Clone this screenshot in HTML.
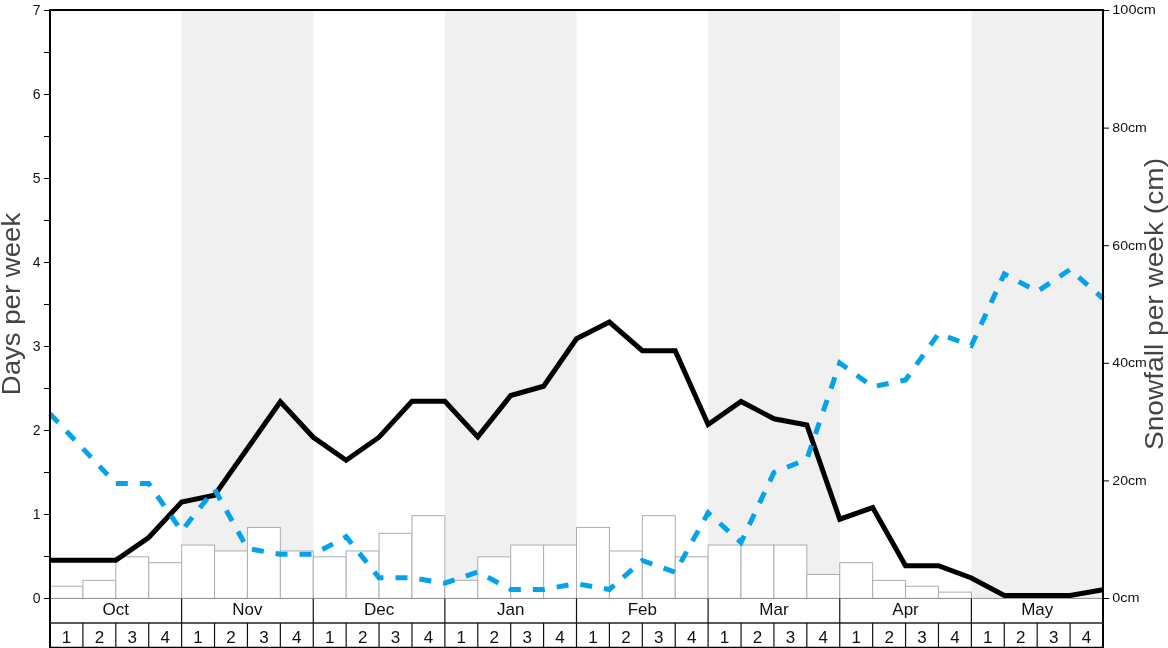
<!DOCTYPE html><html><head><meta charset="utf-8"><style>html,body{margin:0;padding:0;background:#fff;}svg{display:block;will-change:transform;}</style></head><body>
<svg width="1168" height="648" viewBox="0 0 1168 648" font-family='"Liberation Sans", sans-serif'>
<rect width="1168" height="648" fill="#fff"/>
<rect x="181.625" y="10" width="131.625" height="588.500" fill="#f0f0f0"/>
<rect x="444.875" y="10" width="131.625" height="588.500" fill="#f0f0f0"/>
<rect x="708.125" y="10" width="131.625" height="588.500" fill="#f0f0f0"/>
<rect x="971.375" y="10" width="131.625" height="588.500" fill="#f0f0f0"/>
<rect x="50.000" y="586.240" width="32.906" height="12.260" fill="#fff" stroke="#abadb1" stroke-width="1"/>
<rect x="82.906" y="580.360" width="32.906" height="18.140" fill="#fff" stroke="#abadb1" stroke-width="1"/>
<rect x="115.812" y="556.840" width="32.906" height="41.660" fill="#fff" stroke="#abadb1" stroke-width="1"/>
<rect x="148.719" y="562.720" width="32.906" height="35.780" fill="#fff" stroke="#abadb1" stroke-width="1"/>
<rect x="181.625" y="545.080" width="32.906" height="53.420" fill="#fff" stroke="#abadb1" stroke-width="1"/>
<rect x="214.531" y="550.960" width="32.906" height="47.540" fill="#fff" stroke="#abadb1" stroke-width="1"/>
<rect x="247.438" y="527.440" width="32.906" height="71.060" fill="#fff" stroke="#abadb1" stroke-width="1"/>
<rect x="280.344" y="550.960" width="32.906" height="47.540" fill="#fff" stroke="#abadb1" stroke-width="1"/>
<rect x="313.250" y="556.840" width="32.906" height="41.660" fill="#fff" stroke="#abadb1" stroke-width="1"/>
<rect x="346.156" y="550.960" width="32.906" height="47.540" fill="#fff" stroke="#abadb1" stroke-width="1"/>
<rect x="379.062" y="533.320" width="32.906" height="65.180" fill="#fff" stroke="#abadb1" stroke-width="1"/>
<rect x="411.969" y="515.680" width="32.906" height="82.820" fill="#fff" stroke="#abadb1" stroke-width="1"/>
<rect x="444.875" y="580.360" width="32.906" height="18.140" fill="#fff" stroke="#abadb1" stroke-width="1"/>
<rect x="477.781" y="556.840" width="32.906" height="41.660" fill="#fff" stroke="#abadb1" stroke-width="1"/>
<rect x="510.688" y="545.080" width="32.906" height="53.420" fill="#fff" stroke="#abadb1" stroke-width="1"/>
<rect x="543.594" y="545.080" width="32.906" height="53.420" fill="#fff" stroke="#abadb1" stroke-width="1"/>
<rect x="576.500" y="527.440" width="32.906" height="71.060" fill="#fff" stroke="#abadb1" stroke-width="1"/>
<rect x="609.406" y="550.960" width="32.906" height="47.540" fill="#fff" stroke="#abadb1" stroke-width="1"/>
<rect x="642.312" y="515.680" width="32.906" height="82.820" fill="#fff" stroke="#abadb1" stroke-width="1"/>
<rect x="675.219" y="556.840" width="32.906" height="41.660" fill="#fff" stroke="#abadb1" stroke-width="1"/>
<rect x="708.125" y="545.080" width="32.906" height="53.420" fill="#fff" stroke="#abadb1" stroke-width="1"/>
<rect x="741.031" y="545.080" width="32.906" height="53.420" fill="#fff" stroke="#abadb1" stroke-width="1"/>
<rect x="773.938" y="545.080" width="32.906" height="53.420" fill="#fff" stroke="#abadb1" stroke-width="1"/>
<rect x="806.844" y="574.480" width="32.906" height="24.020" fill="#fff" stroke="#abadb1" stroke-width="1"/>
<rect x="839.750" y="562.720" width="32.906" height="35.780" fill="#fff" stroke="#abadb1" stroke-width="1"/>
<rect x="872.656" y="580.360" width="32.906" height="18.140" fill="#fff" stroke="#abadb1" stroke-width="1"/>
<rect x="905.562" y="586.240" width="32.906" height="12.260" fill="#fff" stroke="#abadb1" stroke-width="1"/>
<rect x="938.469" y="592.120" width="32.906" height="6.380" fill="#fff" stroke="#abadb1" stroke-width="1"/>
<line x1="50" y1="598.4" x2="1103" y2="598.4" stroke="#909296" stroke-width="1"/>
<polyline points="50.00,560.20 82.91,560.20 115.81,560.20 148.72,537.50 181.62,502.00 214.53,495.20 247.44,448.50 280.34,401.70 313.25,437.30 346.16,460.25 379.06,437.20 411.97,401.25 444.88,401.25 477.78,436.90 510.69,395.50 543.59,386.25 576.50,338.75 609.41,322.00 642.31,350.75 675.22,350.75 708.12,424.50 741.03,401.50 773.94,418.75 806.84,425.00 839.75,519.20 872.66,507.60 905.56,565.75 938.47,565.75 971.38,578.00 1004.28,595.50 1037.19,595.50 1070.09,595.50 1103.00,589.70" fill="none" stroke="#000" stroke-width="5" stroke-linejoin="miter"/>
<polyline points="50.00,413.75 82.91,448.60 115.81,483.60 148.72,483.60 181.62,531.00 214.53,489.30 247.44,548.50 280.34,554.30 313.25,554.30 346.16,536.80 379.06,577.80 411.97,577.80 444.88,583.20 477.78,572.00 510.69,589.40 543.59,589.40 576.50,583.70 609.41,589.50 642.31,560.50 675.22,572.30 708.12,512.80 741.03,542.40 773.94,472.50 806.84,459.20 839.75,363.00 872.66,386.80 905.56,379.90 938.47,333.80 971.38,345.60 1004.28,274.00 1037.19,291.50 1070.09,269.50 1103.00,298.50" fill="none" stroke="#03a3ec" stroke-width="5" stroke-dasharray="12,12" stroke-linejoin="miter"/>
<line x1="49" y1="10" x2="1104" y2="10" stroke="#000" stroke-width="2"/>
<line x1="50" y1="9" x2="50" y2="648" stroke="#000" stroke-width="2"/>
<line x1="1103" y1="9" x2="1103" y2="648" stroke="#000" stroke-width="2"/>
<line x1="44" y1="598.5" x2="49" y2="598.5" stroke="#000" stroke-width="1"/>
<text x="40.6" y="602.5" font-size="14" text-anchor="end" fill="#111">0</text>
<line x1="44" y1="556.5" x2="49" y2="556.5" stroke="#000" stroke-width="1"/>
<line x1="44" y1="514.5" x2="49" y2="514.5" stroke="#000" stroke-width="1"/>
<text x="40.6" y="518.5" font-size="14" text-anchor="end" fill="#111">1</text>
<line x1="44" y1="472.5" x2="49" y2="472.5" stroke="#000" stroke-width="1"/>
<line x1="44" y1="430.5" x2="49" y2="430.5" stroke="#000" stroke-width="1"/>
<text x="40.6" y="434.5" font-size="14" text-anchor="end" fill="#111">2</text>
<line x1="44" y1="388.5" x2="49" y2="388.5" stroke="#000" stroke-width="1"/>
<line x1="44" y1="346.5" x2="49" y2="346.5" stroke="#000" stroke-width="1"/>
<text x="40.6" y="350.5" font-size="14" text-anchor="end" fill="#111">3</text>
<line x1="44" y1="304.5" x2="49" y2="304.5" stroke="#000" stroke-width="1"/>
<line x1="44" y1="262.5" x2="49" y2="262.5" stroke="#000" stroke-width="1"/>
<text x="40.6" y="266.5" font-size="14" text-anchor="end" fill="#111">4</text>
<line x1="44" y1="220.5" x2="49" y2="220.5" stroke="#000" stroke-width="1"/>
<line x1="44" y1="178.5" x2="49" y2="178.5" stroke="#000" stroke-width="1"/>
<text x="40.6" y="182.5" font-size="14" text-anchor="end" fill="#111">5</text>
<line x1="44" y1="136.5" x2="49" y2="136.5" stroke="#000" stroke-width="1"/>
<line x1="44" y1="94.5" x2="49" y2="94.5" stroke="#000" stroke-width="1"/>
<text x="40.6" y="98.5" font-size="14" text-anchor="end" fill="#111">6</text>
<line x1="44" y1="52.5" x2="49" y2="52.5" stroke="#000" stroke-width="1"/>
<line x1="44" y1="10.5" x2="49" y2="10.5" stroke="#000" stroke-width="1"/>
<text x="40.6" y="14.5" font-size="14" text-anchor="end" fill="#111">7</text>
<line x1="1104" y1="598.5" x2="1109" y2="598.5" stroke="#000" stroke-width="1"/>
<text x="1112.3" y="602.3" font-size="13" fill="#111" textLength="27.3" lengthAdjust="spacingAndGlyphs">0cm</text>
<line x1="1104" y1="480.9" x2="1109" y2="480.9" stroke="#000" stroke-width="1"/>
<text x="1112.3" y="484.7" font-size="13" fill="#111" textLength="34.5" lengthAdjust="spacingAndGlyphs">20cm</text>
<line x1="1104" y1="363.3" x2="1109" y2="363.3" stroke="#000" stroke-width="1"/>
<text x="1112.3" y="367.1" font-size="13" fill="#111" textLength="34.5" lengthAdjust="spacingAndGlyphs">40cm</text>
<line x1="1104" y1="245.7" x2="1109" y2="245.7" stroke="#000" stroke-width="1"/>
<text x="1112.3" y="249.5" font-size="13" fill="#111" textLength="34.5" lengthAdjust="spacingAndGlyphs">60cm</text>
<line x1="1104" y1="128.1" x2="1109" y2="128.1" stroke="#000" stroke-width="1"/>
<text x="1112.3" y="131.9" font-size="13" fill="#111" textLength="34.5" lengthAdjust="spacingAndGlyphs">80cm</text>
<line x1="1104" y1="10.5" x2="1109" y2="10.5" stroke="#000" stroke-width="1"/>
<text x="1112.3" y="14.3" font-size="13" fill="#111" textLength="43.5" lengthAdjust="spacingAndGlyphs">100cm</text>
<line x1="50" y1="623" x2="1103" y2="623" stroke="#222" stroke-width="1.6"/>
<line x1="50" y1="647.5" x2="1103" y2="647.5" stroke="#000" stroke-width="1.5"/>
<line x1="82.906" y1="623.0" x2="82.906" y2="648" stroke="#111" stroke-width="1.2"/>
<line x1="115.812" y1="623.0" x2="115.812" y2="648" stroke="#111" stroke-width="1.2"/>
<line x1="148.719" y1="623.0" x2="148.719" y2="648" stroke="#111" stroke-width="1.2"/>
<line x1="181.625" y1="598.5" x2="181.625" y2="648" stroke="#111" stroke-width="1.2"/>
<line x1="214.531" y1="623.0" x2="214.531" y2="648" stroke="#111" stroke-width="1.2"/>
<line x1="247.438" y1="623.0" x2="247.438" y2="648" stroke="#111" stroke-width="1.2"/>
<line x1="280.344" y1="623.0" x2="280.344" y2="648" stroke="#111" stroke-width="1.2"/>
<line x1="313.250" y1="598.5" x2="313.250" y2="648" stroke="#111" stroke-width="1.2"/>
<line x1="346.156" y1="623.0" x2="346.156" y2="648" stroke="#111" stroke-width="1.2"/>
<line x1="379.062" y1="623.0" x2="379.062" y2="648" stroke="#111" stroke-width="1.2"/>
<line x1="411.969" y1="623.0" x2="411.969" y2="648" stroke="#111" stroke-width="1.2"/>
<line x1="444.875" y1="598.5" x2="444.875" y2="648" stroke="#111" stroke-width="1.2"/>
<line x1="477.781" y1="623.0" x2="477.781" y2="648" stroke="#111" stroke-width="1.2"/>
<line x1="510.688" y1="623.0" x2="510.688" y2="648" stroke="#111" stroke-width="1.2"/>
<line x1="543.594" y1="623.0" x2="543.594" y2="648" stroke="#111" stroke-width="1.2"/>
<line x1="576.500" y1="598.5" x2="576.500" y2="648" stroke="#111" stroke-width="1.2"/>
<line x1="609.406" y1="623.0" x2="609.406" y2="648" stroke="#111" stroke-width="1.2"/>
<line x1="642.312" y1="623.0" x2="642.312" y2="648" stroke="#111" stroke-width="1.2"/>
<line x1="675.219" y1="623.0" x2="675.219" y2="648" stroke="#111" stroke-width="1.2"/>
<line x1="708.125" y1="598.5" x2="708.125" y2="648" stroke="#111" stroke-width="1.2"/>
<line x1="741.031" y1="623.0" x2="741.031" y2="648" stroke="#111" stroke-width="1.2"/>
<line x1="773.938" y1="623.0" x2="773.938" y2="648" stroke="#111" stroke-width="1.2"/>
<line x1="806.844" y1="623.0" x2="806.844" y2="648" stroke="#111" stroke-width="1.2"/>
<line x1="839.750" y1="598.5" x2="839.750" y2="648" stroke="#111" stroke-width="1.2"/>
<line x1="872.656" y1="623.0" x2="872.656" y2="648" stroke="#111" stroke-width="1.2"/>
<line x1="905.562" y1="623.0" x2="905.562" y2="648" stroke="#111" stroke-width="1.2"/>
<line x1="938.469" y1="623.0" x2="938.469" y2="648" stroke="#111" stroke-width="1.2"/>
<line x1="971.375" y1="598.5" x2="971.375" y2="648" stroke="#111" stroke-width="1.2"/>
<line x1="1004.281" y1="623.0" x2="1004.281" y2="648" stroke="#111" stroke-width="1.2"/>
<line x1="1037.188" y1="623.0" x2="1037.188" y2="648" stroke="#111" stroke-width="1.2"/>
<line x1="1070.094" y1="623.0" x2="1070.094" y2="648" stroke="#111" stroke-width="1.2"/>
<text x="115.81" y="614.8" font-size="17" text-anchor="middle" fill="#111">Oct</text>
<text x="66.45" y="642.5" font-size="17" text-anchor="middle" fill="#111">1</text>
<text x="99.36" y="642.5" font-size="17" text-anchor="middle" fill="#111">2</text>
<text x="132.27" y="642.5" font-size="17" text-anchor="middle" fill="#111">3</text>
<text x="165.17" y="642.5" font-size="17" text-anchor="middle" fill="#111">4</text>
<text x="247.44" y="614.8" font-size="17" text-anchor="middle" fill="#111">Nov</text>
<text x="198.08" y="642.5" font-size="17" text-anchor="middle" fill="#111">1</text>
<text x="230.98" y="642.5" font-size="17" text-anchor="middle" fill="#111">2</text>
<text x="263.89" y="642.5" font-size="17" text-anchor="middle" fill="#111">3</text>
<text x="296.80" y="642.5" font-size="17" text-anchor="middle" fill="#111">4</text>
<text x="379.06" y="614.8" font-size="17" text-anchor="middle" fill="#111">Dec</text>
<text x="329.70" y="642.5" font-size="17" text-anchor="middle" fill="#111">1</text>
<text x="362.61" y="642.5" font-size="17" text-anchor="middle" fill="#111">2</text>
<text x="395.52" y="642.5" font-size="17" text-anchor="middle" fill="#111">3</text>
<text x="428.42" y="642.5" font-size="17" text-anchor="middle" fill="#111">4</text>
<text x="510.69" y="614.8" font-size="17" text-anchor="middle" fill="#111">Jan</text>
<text x="461.33" y="642.5" font-size="17" text-anchor="middle" fill="#111">1</text>
<text x="494.23" y="642.5" font-size="17" text-anchor="middle" fill="#111">2</text>
<text x="527.14" y="642.5" font-size="17" text-anchor="middle" fill="#111">3</text>
<text x="560.05" y="642.5" font-size="17" text-anchor="middle" fill="#111">4</text>
<text x="642.31" y="614.8" font-size="17" text-anchor="middle" fill="#111">Feb</text>
<text x="592.95" y="642.5" font-size="17" text-anchor="middle" fill="#111">1</text>
<text x="625.86" y="642.5" font-size="17" text-anchor="middle" fill="#111">2</text>
<text x="658.77" y="642.5" font-size="17" text-anchor="middle" fill="#111">3</text>
<text x="691.67" y="642.5" font-size="17" text-anchor="middle" fill="#111">4</text>
<text x="773.94" y="614.8" font-size="17" text-anchor="middle" fill="#111">Mar</text>
<text x="724.58" y="642.5" font-size="17" text-anchor="middle" fill="#111">1</text>
<text x="757.48" y="642.5" font-size="17" text-anchor="middle" fill="#111">2</text>
<text x="790.39" y="642.5" font-size="17" text-anchor="middle" fill="#111">3</text>
<text x="823.30" y="642.5" font-size="17" text-anchor="middle" fill="#111">4</text>
<text x="905.56" y="614.8" font-size="17" text-anchor="middle" fill="#111">Apr</text>
<text x="856.20" y="642.5" font-size="17" text-anchor="middle" fill="#111">1</text>
<text x="889.11" y="642.5" font-size="17" text-anchor="middle" fill="#111">2</text>
<text x="922.02" y="642.5" font-size="17" text-anchor="middle" fill="#111">3</text>
<text x="954.92" y="642.5" font-size="17" text-anchor="middle" fill="#111">4</text>
<text x="1037.19" y="614.8" font-size="17" text-anchor="middle" fill="#111">May</text>
<text x="987.83" y="642.5" font-size="17" text-anchor="middle" fill="#111">1</text>
<text x="1020.73" y="642.5" font-size="17" text-anchor="middle" fill="#111">2</text>
<text x="1053.64" y="642.5" font-size="17" text-anchor="middle" fill="#111">3</text>
<text x="1086.55" y="642.5" font-size="17" text-anchor="middle" fill="#111">4</text>
<text transform="translate(20,304) rotate(-90)" font-size="25" text-anchor="middle" fill="#444" textLength="182.5" lengthAdjust="spacingAndGlyphs">Days per week</text>
<text transform="translate(1163,304) rotate(-90)" font-size="25" text-anchor="middle" fill="#444" textLength="292" lengthAdjust="spacingAndGlyphs">Snowfall per week (cm)</text>
</svg></body></html>
